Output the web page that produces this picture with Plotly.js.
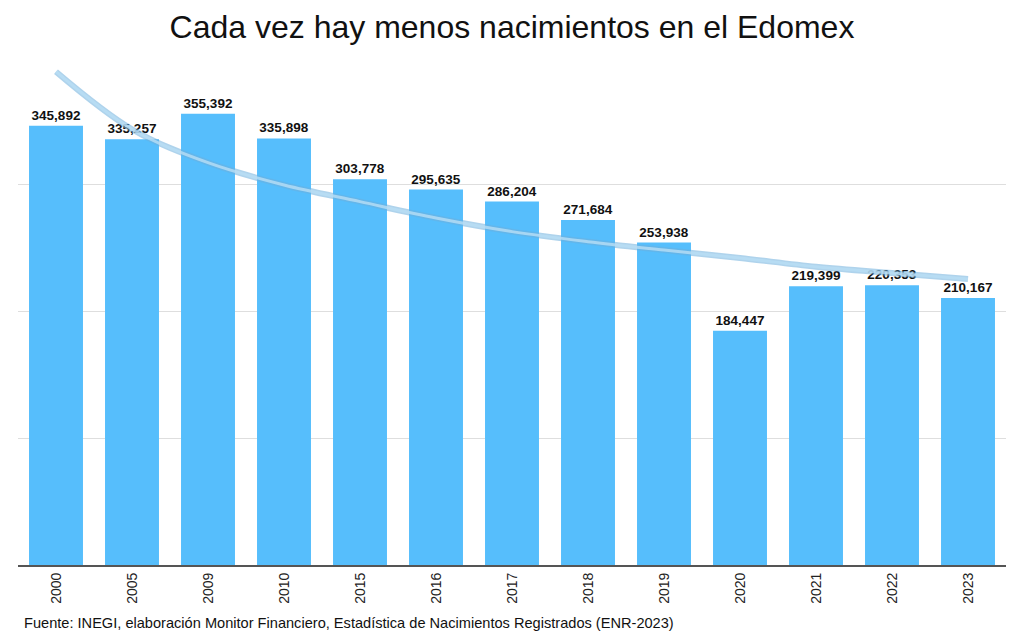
<!DOCTYPE html>
<html>
<head>
<meta charset="utf-8">
<script src="https://cdn.plot.ly/plotly-3.0.1.min.js"></script>
<style>
html,body{margin:0;padding:0;background:#fff;}
#chart{width:1024px;height:638px;}
</style>
</head>
<body>
<div id="chart"></div>
<script>
const years = ["2000","2005","2009","2010","2015","2016","2017","2018","2019","2020","2021","2022","2023"];
const births = [345892,335257,355392,335898,303778,295635,286204,271684,253938,184447,219399,220353,210167];
const trendValues = [388400,343100,316800,299200,286100,273200,262500,254600,248000,241700,234900,229900,225200];
const titleText = "Cada vez hay menos nacimientos en el Edomex";
const sourceText = "Fuente: INEGI, elaboración Monitor Financiero, Estadística de Nacimientos Registrados (ENR-2023)";

const font = "Liberation Sans, Arial, Helvetica, sans-serif";

const data = [
  {
    type: "bar",
    x: years,
    y: births,
    marker: {color: "#56befc"},
    texttemplate: "<b>%{y:,}</b>",
    textposition: "outside",
    cliponaxis: false,
    textfont: {family: font, size: 13.5, color: "#111"},
    hoverinfo: "x+y",
    showlegend: false
  },
  {
    type: "scatter",
    mode: "lines",
    x: years,
    y: trendValues,
    line: {color: "rgba(110,175,220,0.55)", width: 6, shape: "spline"},
    hoverinfo: "skip",
    showlegend: false
  },
  {
    type: "scatter",
    mode: "lines",
    x: years,
    y: trendValues,
    line: {color: "rgba(185,222,245,0.8)", width: 3, shape: "spline"},
    hoverinfo: "skip",
    showlegend: false
  }
];

const layout = {
  width: 1024,
  height: 638,
  paper_bgcolor: "#fff",
  plot_bgcolor: "#fff",
  margin: {l: 18, r: 18, t: 57, b: 73},
  bargap: 0.29,
  title: {
    text: titleText,
    font: {family: font, size: 32, color: "#111"},
    x: 0.5, xanchor: "center",
    y: 0.958, yanchor: "middle"
  },
  xaxis: {
    type: "category",
    tickangle: -90,
    tickfont: {family: font, size: 14, color: "#222"},
    showline: true,
    linecolor: "#555",
    linewidth: 2,
    ticks: "",
    showgrid: false,
    fixedrange: true
  },
  yaxis: {
    range: [0, 400000],
    showticklabels: false,
    showgrid: true,
    gridcolor: "#dedede",
    gridwidth: 1,
    dtick: 100000,
    zeroline: false,
    ticks: "",
    fixedrange: true
  },
  annotations: [
    {
      text: sourceText,
      xref: "paper", yref: "paper",
      x: 0, y: -0.114,
      xanchor: "left", yanchor: "middle",
      xshift: 4,
      showarrow: false,
      font: {family: font, size: 14.6, color: "#111"}
    }
  ]
};

Plotly.newPlot("chart", data, layout, {displayModeBar: false, staticPlot: true});
</script>
</body>
</html>
